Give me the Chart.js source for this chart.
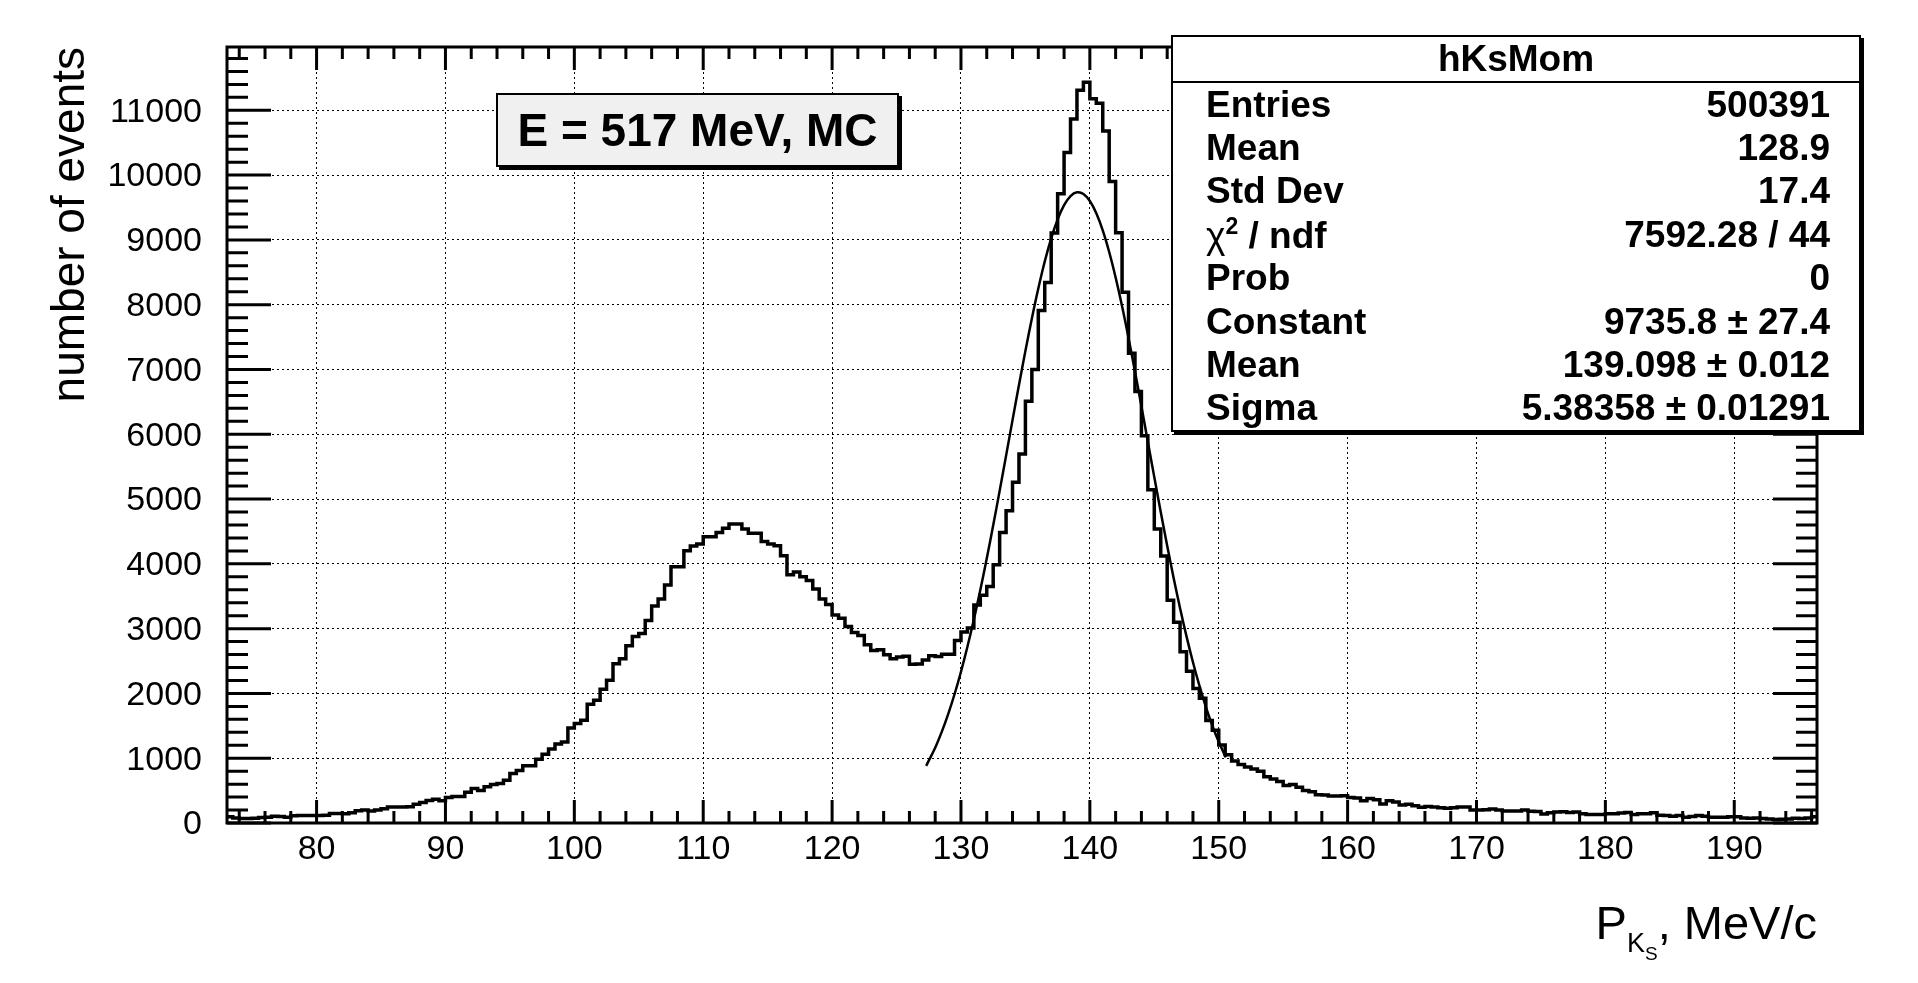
<!DOCTYPE html>
<html>
<head>
<meta charset="utf-8">
<title>hKsMom</title>
<script src="https://cdn.jsdelivr.net/npm/chart.js@4.4.1/dist/chart.umd.min.js"></script>
<style>
  html, body { margin: 0; padding: 0; background: #fff; }
  body { position: relative; width: 1918px; height: 983px; overflow: hidden; font-family: "Liberation Sans", Arial, sans-serif; color: #000; }
  #plot { position: absolute; left: 0; top: 0; }
  .pave { position: absolute; box-sizing: border-box; border: 2.5px solid #000; box-shadow: 3px 3px 0 #000; }
  #label-box { left: 496px; top: 93px; width: 403px; height: 74px; background: #f0f0f0; display: flex; align-items: center; justify-content: center; font: bold 46px "Liberation Sans", Arial, sans-serif; white-space: nowrap; }
  #stats { left: 1171px; top: 35px; width: 690px; height: 397px; background: #fff; display: flex; flex-direction: column; font: bold 37px "Liberation Sans", Arial, sans-serif; white-space: nowrap; }
  #stats .st-title { height: 44px; flex: none; border-bottom: 2px solid #000; display: flex; align-items: center; justify-content: center; }
  #stats .st-row { flex: 1; display: flex; align-items: center; justify-content: space-between; padding: 0 29px 0 33px; }
  .chi { font-weight: normal; }
  .sup2 { font-size: 23px; vertical-align: 14px; }
  #xtitle { position: absolute; right: 101px; top: 899px; font: 47px "Liberation Sans", Arial, sans-serif; line-height: 1; white-space: nowrap; }
  #xtitle .s1 { font-size: 27px; vertical-align: -13px; }
  #xtitle .s2 { font-size: 19px; vertical-align: -8px; }
</style>
</head>
<body>
<canvas id="plot" width="1918" height="983"></canvas>
<div id="label-box" class="pave">E = 517 MeV, MC</div>
<div id="stats" class="pave"></div>
<div id="xtitle">P<span class="s1">K<span class="s2">S</span></span>, MeV/c</div>
<script>
// histogram hKsMom: 0.5 MeV/c bins starting at 73 MeV/c
const xLow = 73.0;
const binWidth = 0.5;
const counts = [
  95, 79, 68, 68, 74, 84, 89, 105, 100, 89,
  110, 116, 116, 116, 116, 121, 147, 147, 142, 158,
  189, 200, 184, 200, 221, 247, 247, 247, 252, 289,
  316, 347, 368, 342, 395, 410, 410, 473, 531, 500,
  558, 594, 610, 658, 763, 810, 884, 884, 984, 1063,
  1142, 1221, 1250, 1465, 1535, 1587, 1833, 1894, 2064, 2202,
  2459, 2536, 2736, 2879, 2925, 3125, 3351, 3458, 3674, 3956,
  3956, 4202, 4274, 4305, 4418, 4418, 4484, 4551, 4613, 4613,
  4536, 4474, 4474, 4346, 4305, 4279, 4125, 3833, 3874, 3802,
  3741, 3612, 3458, 3371, 3212, 3161, 3033, 2941, 2894, 2751,
  2664, 2674, 2597, 2536, 2561, 2575, 2452, 2455, 2515, 2583,
  2568, 2606, 2606, 2818, 2947, 3008, 3364, 3515, 3652, 3985,
  4485, 4818, 5258, 5697, 6508, 7000, 7909, 8341, 9106, 9712,
  10348, 10864, 11308, 11432, 11180, 11110, 10680, 9900, 9110, 8190,
  7250, 6659, 5977, 5144, 4538, 4121, 3439, 3098, 2644, 2341,
  2076, 1924, 1583, 1432, 1205, 1053, 955, 902, 864, 835,
  800, 715, 679, 642, 579, 595, 553, 500, 484, 437,
  432, 416, 416, 421, 395, 384, 342, 379, 358, 295,
  342, 326, 279, 289, 268, 242, 253, 247, 237, 226,
  237, 247, 247, 200, 200, 205, 216, 200, 184, 184,
  184, 200, 180, 178, 137, 158, 168, 174, 163, 168,
  142, 132, 132, 132, 142, 142, 153, 163, 132, 142,
  142, 158, 121, 116, 105, 116, 89, 100, 116, 105,
  89, 89, 89, 95, 95, 79, 74, 79, 68, 63,
  53, 58, 63, 74, 68, 79, 95
];

// gaussian fit curve
const fitX = [127.3, 128.0, 128.5, 129.0, 129.5, 130.0, 130.5, 131.0, 131.5, 132.0,
  132.5, 133.0, 133.5, 134.0, 134.5, 135.0, 135.5, 136.0, 136.5, 137.0,
  137.5, 138.0, 138.5, 139.0, 139.5, 140.0, 140.5, 141.0, 141.5, 142.0,
  142.5, 143.0, 143.5, 144.0, 144.5, 145.0, 145.5, 146.0, 146.5, 147.0,
  147.5, 148.0, 148.5, 149.0, 149.5, 150.0, 150.55];
const fitY = [882, 1163, 1402, 1677, 1987, 2335, 2720, 3141, 3596, 4082,
  4594, 5126, 5670, 6218, 6761, 7287, 7787, 8250, 8666, 9024,
  9316, 9535, 9676, 9734, 9709, 9600, 9411, 9147, 8813, 8419,
  7974, 7487, 6970, 6432, 5885, 5338, 4801, 4280, 3783, 3315,
  2880, 2481, 2119, 1794, 1505, 1253, 1013];

const xTickValues = [80, 90, 100, 110, 120, 130, 140, 150, 160, 170, 180, 190];
const yTickValues = [0, 1000, 2000, 3000, 4000, 5000, 6000, 7000, 8000, 9000, 10000, 11000];

const statNames = ["Entries", "Mean", "Std Dev", "χ2 / ndf", "Prob", "Constant", "Mean", "Sigma"];
const statValues = ["500391", "128.9", "17.4", "7592.28 / 44", "0", "9735.8 ± 27.4", "139.098 ± 0.012", "5.38358 ± 0.01291"];
const histName = "hKsMom";

const xRange = [73.05, 196.42];
const yRange = [0, 11977];

const FONT = "'Liberation Sans', Arial, sans-serif";

// stats box
const stats = document.getElementById("stats");
stats.innerHTML = `<div class="st-title"><span>${histName}</span></div>` +
  statNames.map((name, i) => {
    const label = name === "χ2 / ndf" ? `<span class="chi">χ</span><span class="sup2">2</span> / ndf` : name;
    return `<div class="st-row"><span>${label}</span><span>${statValues[i]}</span></div>`;
  }).join("");

const histPoints = counts.map((v, i) => ({ x: xLow + i * binWidth, y: v }));
histPoints.push({ x: xLow + counts.length * binWidth, y: counts[counts.length - 1] });
const fitPoints = fitX.map((x, i) => ({ x, y: fitY[i] }));

// ROOT style frame with inner ticks on all four sides
const frameTicks = {
  id: "frameTicks",
  afterDraw(chart) {
    const { ctx, chartArea: a, scales: { x, y } } = chart;
    ctx.save();
    ctx.strokeStyle = "#000";
    ctx.lineWidth = 3;
    ctx.beginPath();
    for (let v = 74; v <= x.max; v += 2) {
      const px = x.getPixelForValue(v);
      const len = v % 10 === 0 ? 23 : 12;
      ctx.moveTo(px, a.bottom); ctx.lineTo(px, a.bottom - len);
      ctx.moveTo(px, a.top); ctx.lineTo(px, a.top + len);
    }
    for (let v = 0; v <= y.max; v += 200) {
      const py = y.getPixelForValue(v);
      const len = v % 1000 === 0 ? 44 : 21;
      ctx.moveTo(a.left, py); ctx.lineTo(a.left + len, py);
      ctx.moveTo(a.right, py); ctx.lineTo(a.right - len, py);
    }
    ctx.stroke();
    ctx.strokeRect(a.left, a.top, a.right - a.left, a.bottom - a.top);
    ctx.restore();
  }
};

new Chart(document.getElementById("plot"), {
  type: "line",
  data: {
    datasets: [
      { data: histPoints, stepped: "before", borderColor: "#000", borderWidth: 3.5, pointRadius: 0, fill: false },
      { data: fitPoints, tension: 0.4, borderColor: "#000", borderWidth: 2.5, pointRadius: 0, fill: false }
    ]
  },
  options: {
    responsive: false,
    animation: false,
    devicePixelRatio: 1,
    layout: { padding: { left: 0, top: 47, right: 101, bottom: 0 } },
    plugins: { legend: { display: false }, tooltip: { enabled: false } },
    scales: {
      x: {
        type: "linear", min: xRange[0], max: xRange[1],
        afterFit: s => { s.height = 160; },
        afterBuildTicks: s => { s.ticks = xTickValues.map(v => ({ value: v })); },
        ticks: { autoSkip: false, maxRotation: 0, color: "#000", padding: 6, font: { family: FONT, size: 34 }, callback: v => String(v) },
        grid: { color: "#000", lineWidth: 1, drawTicks: false },
        border: { display: false, dash: [2, 3] }
      },
      y: {
        type: "linear", min: yRange[0], max: yRange[1],
        afterFit: s => { s.width = 227; },
        afterBuildTicks: s => { s.ticks = yTickValues.map(v => ({ value: v })); },
        ticks: { autoSkip: false, color: "#000", padding: 25, labelOffset: 2, font: { family: FONT, size: 34 }, callback: v => String(v) },
        grid: { color: "#000", lineWidth: 1, drawTicks: false },
        border: { display: false, dash: [2, 3] },
        title: { display: true, text: "number of events", align: "end", color: "#000", font: { family: FONT, size: 46 }, padding: { top: 44, bottom: 0 } }
      }
    }
  },
  plugins: [frameTicks]
});
</script>
</body>
</html>
